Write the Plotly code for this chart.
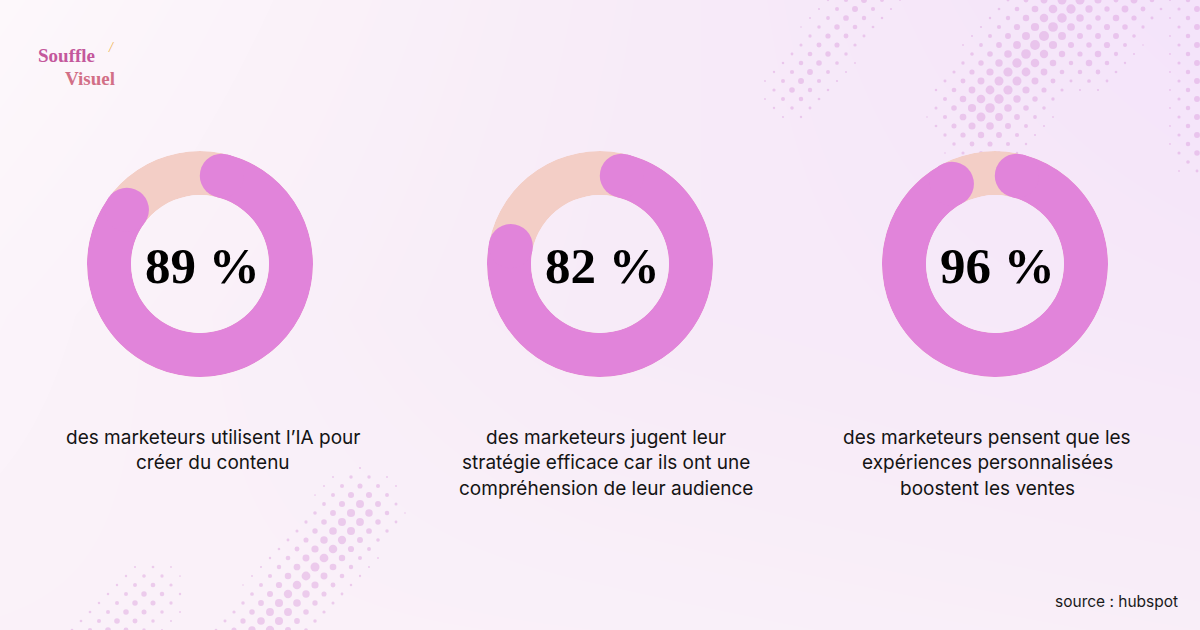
import numpy as np
import plotly.graph_objects as go

W, H = 1200, 630

# ---------------- data ----------------
values = [89, 82, 96]
value_labels = ["89 %", "82 %", "96 %"]
captions = [
    ["des marketeurs utilisent l’IA pour", "créer du contenu"],
    ["des marketeurs jugent leur", "stratégie efficace car ils ont une", "compréhension de leur audience"],
    ["des marketeurs pensent que les", "expériences personnalisées", "boostent les ventes"],
]
source_text = "source : hubspot"

# ---------------- style ----------------
PINK = "#E184DA"
PEACH = "#F3CEC6"
centers_x = [200, 600, 995]
center_y = 264
R_OUT = 113
HOLE = 0.61
caption_x = [213, 606, 987]
caption_y = [437, 462.5, 488]

thickness = R_OUT * (1 - HOLE)
r_mid = R_OUT * (1 + HOLE) / 2
cap_deg = np.degrees((thickness / 2) / r_mid)

fig = go.Figure()

# background gradient (decorative)
fig.add_trace(go.Heatmap(
    x=[0, W / 2, W], y=[0, H / 2, H],
    z=[[0.0, 0.55, 1.0], [0.2, 0.6, 0.75], [0.3, 0.35, 0.45]],
    colorscale=[[0, "#FDF8FB"], [0.5, "#F8EDF8"], [1, "#F4E3FA"]],
    zsmooth="best", showscale=False, hoverinfo="skip",
    xaxis="x", yaxis="y"))

# halftone dots (decorative)
bands = [
    # (x1, y1, x2, y2, width, max size)
    (1080, -10, 985, 110, 70, 10),
    (1140, -10, 1090, 60, 45, 7),
    (870, -10, 795, 90, 45, 6),
    (1198, -10, 1198, 150, 40, 6),
    (360, 510, 245, 655, 55, 9),
    (150, 595, 80, 660, 50, 6),
]
dx, dy = [], []
ds = []
for row in range(0, 71):
    yy = row * 9
    off = 9 if row % 2 else 0
    for i in range(0, 68):
        xx = i * 18 + off
        best = 0
        for (x1, y1, x2, y2, w, s) in bands:
            px, py = x2 - x1, y2 - y1
            t = ((xx - x1) * px + (yy - y1) * py) / (px * px + py * py)
            t = min(1, max(0, t))
            d = np.hypot(xx - (x1 + t * px), yy - (y1 + t * py))
            best = max(best, s * (1 - d / w))
        if best > 1.6:
            dx.append(xx); dy.append(yy); ds.append(best)
fig.add_trace(go.Scatter(
    x=dx, y=dy, mode="markers",
    marker=dict(size=ds, color="rgba(218,150,220,0.6)", line=dict(width=0)),
    hoverinfo="skip", showlegend=False, xaxis="x", yaxis="y"))

# donuts
for k, v in enumerate(values):
    pid = "polar" if k == 0 else f"polar{k+1}"
    span = 360 * v / 100
    fig.add_trace(go.Barpolar(
        r=[1], theta=[180], width=[360], base=0,
        marker=dict(color=PEACH, line=dict(width=0)),
        hoverinfo="skip", showlegend=False, subplot=pid))
    fig.add_trace(go.Barpolar(
        r=[1], theta=[span / 2], width=[span - 2 * cap_deg], base=0,
        marker=dict(color=PINK, line=dict(width=0)),
        hoverinfo="skip", showlegend=False, subplot=pid))
    fig.add_trace(go.Scatterpolar(
        r=[0.5, 0.5], theta=[cap_deg, span - cap_deg], mode="markers",
        marker=dict(size=thickness, color=PINK, line=dict(width=0)),
        hoverinfo="skip", showlegend=False, subplot=pid))
    cx = centers_x[k]
    fig.update_layout(**{pid: dict(
        domain=dict(x=[(cx - R_OUT) / W, (cx + R_OUT) / W],
                    y=[(H - center_y - R_OUT) / H, (H - center_y + R_OUT) / H]),
        hole=HOLE, bgcolor="rgba(0,0,0,0)",
        radialaxis=dict(visible=False, range=[0, 1]),
        angularaxis=dict(visible=False, rotation=90, direction="clockwise"),
    )})
    fig.add_annotation(
        x=(cx + 2) / W, y=(H - center_y - 2) / H, xref="paper", yref="paper",
        text=f"<b>{value_labels[k]}</b>", showarrow=False,
        font=dict(family="Liberation Serif", size=51, color="#000000"),
        xanchor="center", yanchor="middle")
    for j, line in enumerate(captions[k]):
        fig.add_annotation(
            x=caption_x[k] / W, y=(H - caption_y[j]) / H, xref="paper", yref="paper",
            text=line, showarrow=False,
            font=dict(family="Inter", size=19, color="#141414"),
            xanchor="center", yanchor="middle")

# source
fig.add_annotation(
    x=1180 / W, y=(H - 601) / H, xref="paper", yref="paper",
    text=source_text, showarrow=False,
    font=dict(family="Inter", size=15.5, color="#1a1a1a"),
    xanchor="right", yanchor="middle")

# logo
fig.add_shape(type="rect", xref="paper", yref="paper",
              x0=34 / W, x1=118 / W, y0=(H - 102) / H, y1=(H - 32) / H,
              fillcolor="rgba(255,255,255,0.55)", line=dict(width=0), layer="below")
fig.add_annotation(x=37 / W, y=(H - 55) / H, xref="paper", yref="paper",
                   text="<b>Souffle</b>", showarrow=False, xanchor="left", yanchor="middle",
                   borderpad=0,
                   font=dict(family="Liberation Serif", size=19, color="#C4589C"))
fig.add_annotation(x=116 / W, y=(H - 78) / H, xref="paper", yref="paper",
                   text="<b>Visuel</b>", showarrow=False, xanchor="right", yanchor="middle",
                   borderpad=0,
                   font=dict(family="Liberation Serif", size=19, color="#D26F86"))
fig.add_annotation(x=111 / W, y=(H - 48) / H, xref="paper", yref="paper",
                   text="<i>/</i>", showarrow=False, xanchor="center", yanchor="middle",
                   borderpad=0,
                   font=dict(family="Liberation Serif", size=14, color="#EDB24E"))

fig.update_layout(
    width=W, height=H, margin=dict(l=0, r=0, t=0, b=0),
    paper_bgcolor="#FBF2F8", plot_bgcolor="rgba(0,0,0,0)", showlegend=False,
    xaxis=dict(range=[0, W], visible=False, domain=[0, 1], fixedrange=True),
    yaxis=dict(range=[H, 0], visible=False, domain=[0, 1], fixedrange=True),
)

fig.write_html("out.html")
